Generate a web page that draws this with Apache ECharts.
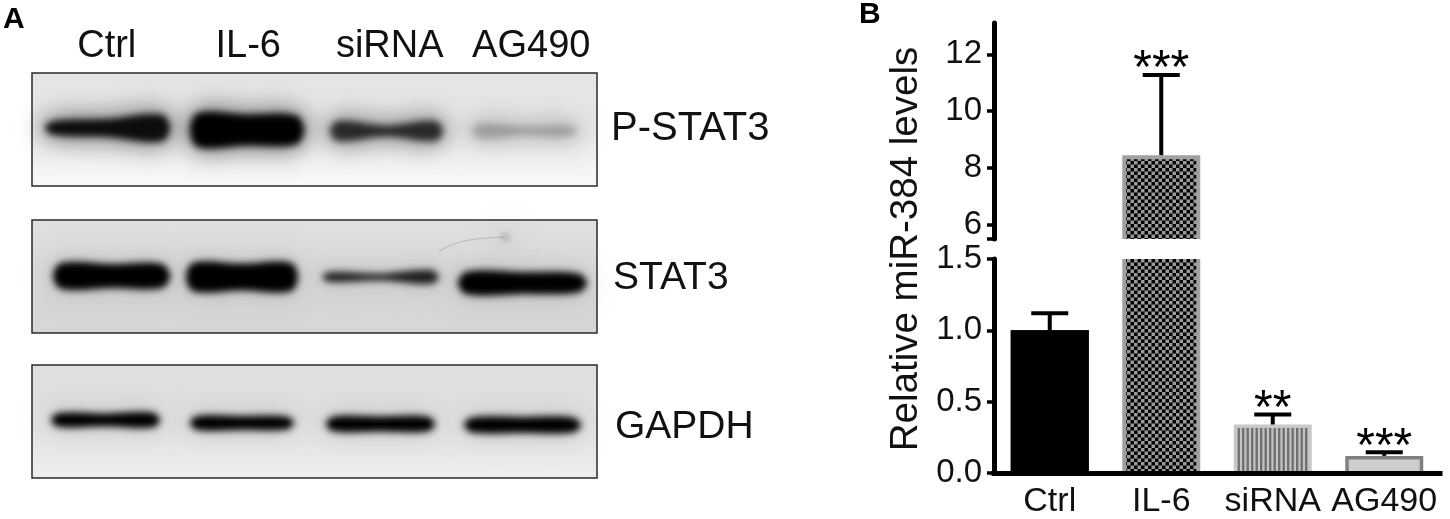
<!DOCTYPE html>
<html>
<head>
<meta charset="utf-8">
<style>
  html, body { margin: 0; padding: 0; background: #fff; }
  #chart { width: 1450px; height: 519px; }
</style>
<script src="https://cdn.jsdelivr.net/npm/echarts@6/dist/echarts.min.js"></script>
</head>
<body>
<div id="chart"></div>
<script>
const FONT = '"Liberation Sans", Arial, sans-serif';

// ── Panel B data ──
const groups = ['Ctrl', 'IL-6', 'siRNA', 'AG490'];
const means = [1.0, 8.45, 0.34, 0.12];
const errorTops = [1.12, 11.27, 0.41, 0.145];
const stars = ['', '***', '**', '***'];
const upperTicks = [5.5, 6, 8, 10, 12];
const upperLabels = [6, 8, 10, 12];

// ── Panel A data: one row per band, read off each membrane in its own 565 x 113 frame ──
// [left, right, middle y, thickness left, thickness mid, thickness right, density]
const pStat3Bands = [
  [13, 138, 55, 14, 18, 27, 0.92],
  [158, 272, 57, 34, 31, 29, 1],
  [298, 411, 58, 20, 11, 20, 0.75],
  [440, 545, 58, 15, 9, 11, 0.2],
];
const stat3Bands = [
  [21, 138, 56, 26, 24, 24, 1],
  [154, 266, 57, 29, 27, 29, 1],
  [290, 407, 57, 10, 7, 14, 0.85],
  [426, 555, 63, 23, 22, 19, 1],
  [470, 477, 17, 5, 6, 5, 0.3],
];
const gapdhBands = [
  [19, 128, 55, 14, 13, 15, 1],
  [158, 262, 58, 14, 14, 13, 1],
  [294, 403, 59, 15, 15, 15, 1],
  [432, 549, 60, 15, 16, 15, 1],
];
const stat3Smear = [[407, 31], [425, 23], [445, 19], [472, 17]];

const blots = [
  { name: 'P-STAT3', top: 73, bands: pStat3Bands, halo: 0.4, labelX: 611, labelY: 129, labelSize: 40,
    bg: ['#e4e4e4', '#e8e8e8', '#f9f9f9'] },
  { name: 'STAT3', top: 220, bands: stat3Bands, halo: 0.1, labelX: 613, labelY: 278, labelSize: 39,
    bg: ['#e0e0e0', '#d9d9d9', '#d6d6d6'] },
  { name: 'GAPDH', top: 365, bands: gapdhBands, halo: 0.1, labelX: 615, labelY: 427, labelSize: 39,
    bg: ['#dedede', '#e2e2e2', '#eeeeee'] },
];

// ── Fill patterns ──
function makeChecker() {
  const c = document.createElement('canvas');
  c.width = c.height = 7;
  const ctx = c.getContext('2d');
  ctx.fillStyle = '#000';
  ctx.fillRect(0, 0, 7, 7);
  ctx.fillStyle = '#9a9a9a';
  ctx.fillRect(0, 0, 3.5, 3.5);
  ctx.fillRect(3.5, 3.5, 3.5, 3.5);
  return { image: c, repeat: 'repeat' };
}

function makeStripes() {
  const c = document.createElement('canvas');
  c.width = 9;
  c.height = 2;
  const ctx = c.getContext('2d');
  ctx.fillStyle = '#c4c4c4';
  ctx.fillRect(0, 0, 9, 2);
  ctx.fillStyle = '#707070';
  ctx.fillRect(0, 0, 2.4, 2);
  ctx.fillRect(4.5, 0, 2.4, 2);
  return { image: c, repeat: 'repeat' };
}

const barStyles = [
  { border: '#000', fill: '#000', inset: 0 },
  { border: '#a0a0a0', fill: makeChecker(), inset: 4 },
  { border: '#c8c8c8', fill: makeStripes(), inset: 3.5 },
  { border: '#808080', fill: '#cecece', inset: 3.5 },
];

// ── Render items ──
function renderBar(params, api) {
  const i = api.value(0);
  const cs = params.coordSys;
  const x = api.coord([i, 0])[0];
  const half = 39;
  const rawTop = api.coord([i, api.value(1)])[1];
  const top = Math.max(rawTop, cs.y);
  const bottom = cs.y + cs.height;
  if (top >= bottom) return null;
  const cutTop = rawTop < cs.y;
  const s = barStyles[i];
  return {
    type: 'group',
    children: [
      { type: 'rect', shape: { x: x - half, y: top, width: half * 2, height: bottom - top },
        style: { fill: s.border } },
      { type: 'rect', shape: {
          x: x - half + s.inset,
          y: cutTop ? top : top + s.inset,
          width: half * 2 - s.inset * 2,
          height: bottom - top - (cutTop ? 0 : s.inset),
        }, style: { fill: s.fill } },
    ],
  };
}

function renderError(params, api) {
  const i = api.value(0);
  const x = api.coord([i, 0])[0];
  const y0 = api.coord([i, api.value(1)])[1];
  const y1 = api.coord([i, api.value(2)])[1];
  const cs = params.coordSys;
  if (y1 < cs.y || y1 > cs.y + cs.height) return null;
  const lineStyle = { stroke: '#000', lineWidth: 4 };
  return {
    type: 'group',
    children: [
      { type: 'line', shape: { x1: x, y1: y0, x2: x, y2: y1 }, style: lineStyle },
      { type: 'line', shape: { x1: x - 18.5, y1: y1, x2: x + 18.5, y2: y1 }, style: lineStyle },
      { type: 'text', style: {
          text: stars[i], x: x, y: y1 - 5,
          textAlign: 'center', textVerticalAlign: 'middle',
          fill: '#000', font: '48px ' + FONT,
        } },
    ],
  };
}

// the shape is painted far off the page and only its blurred shadow lands on the membrane
function softBand(points, blur, color) {
  const OFF = 3000;
  return {
    type: 'polygon',
    silent: true,
    shape: { points: points.map(p => [p[0] - OFF, p[1]]), smooth: 0.35 },
    style: { fill: '#000', shadowBlur: blur, shadowColor: color, shadowOffsetX: OFF },
  };
}

function bandPoints(api, row, grow) {
  const [l, r, y, tl, tm, tr] = row;
  const w = r - l;
  const xs = [l + w * 0.07, l + w * 0.5, r - w * 0.07];
  const ts = [tl, tm, tr];
  const topPts = xs.map((x, k) => api.coord([x, y - ts[k] / 2 - grow]));
  const botPts = xs.map((x, k) => api.coord([x, y + ts[k] / 2 + grow])).reverse();
  const leftPt = api.coord([l - grow, y]);
  const rightPt = api.coord([r + grow, y]);
  return [leftPt, ...topPts, rightPt, ...botPts];
}

function makeRenderBand(halo) {
  return function (params, api) {
    const row = [0, 1, 2, 3, 4, 5, 6].map(k => api.value(k));
    const density = row[6];
    return {
      type: 'group',
      children: [
        softBand(bandPoints(api, row, 7), 22, 'rgba(0,0,0,' + (halo * Math.sqrt(density)).toFixed(3) + ')'),
        softBand(bandPoints(api, row, 0), 7, 'rgba(0,0,0,' + density + ')'),
      ],
    };
  };
}

// ── Grids and axes ──
const grids = [];
const xAxes = [];
const yAxes = [];
const series = [];

blots.forEach((b, i) => {
  grids.push({
    left: 32, top: b.top, width: 565, height: 113, show: true,
    borderColor: '#2a2a2a', borderWidth: 1.5,
    backgroundColor: {
      type: 'linear', x: 0, y: 0, x2: 0, y2: 1,
      colorStops: [
        { offset: 0, color: b.bg[0] },
        { offset: 0.5, color: b.bg[1] },
        { offset: 1, color: b.bg[2] },
      ],
    },
  });
  xAxes.push({ type: 'value', gridIndex: i, min: 0, max: 565, show: false });
  yAxes.push({ type: 'value', gridIndex: i, min: 0, max: 113, inverse: true, show: false });
  series.push({
    type: 'custom', xAxisIndex: i, yAxisIndex: i, silent: true,
    renderItem: makeRenderBand(b.halo),
    encode: { x: 0, y: 2 },
    data: b.bands,
  });
});

series.push({
  type: 'line', xAxisIndex: 1, yAxisIndex: 1, smooth: true, silent: true,
  showSymbol: false,
  lineStyle: { width: 1.2, color: 'rgba(60,60,60,0.2)' },
  data: stat3Smear,
});

// lane labels sit above the first membrane
grids.push({ left: 36, top: 73, width: 566, height: 113 });
xAxes.push({
  type: 'category', gridIndex: 3, position: 'top', data: groups,
  axisLine: { show: false }, axisTick: { show: false },
  axisLabel: { color: '#111', fontSize: 38, fontFamily: FONT, margin: 7, interval: 0 },
});
yAxes.push({ type: 'value', gridIndex: 3, show: false });

const axisLine = { lineStyle: { color: '#000', width: 5 } };
const axisTick = { length: 7, lineStyle: { color: '#000', width: 3.5 } };
const tickLabel = { color: '#111', fontSize: 33, fontFamily: FONT, margin: 12 };

// panel B broken axis: upper part 5.5 to 13.1, lower part 0 to 1.5
grids.push({ left: 994, top: 23, width: 446, height: 216 });
xAxes.push({ type: 'category', gridIndex: 4, data: groups, show: false });
yAxes.push({
  type: 'value', gridIndex: 4, min: 5.5, max: 13.1,
  axisLine: { show: true, ...axisLine },
  axisTick: { show: true, ...axisTick, customValues: upperTicks },
  axisLabel: { ...tickLabel, customValues: upperLabels },
  splitLine: { show: false },
});

grids.push({ left: 994, top: 259, width: 446, height: 214 });
xAxes.push({
  type: 'category', gridIndex: 5, data: groups, z: 5,
  axisLine: { ...axisLine, lineStyle: { ...axisLine.lineStyle, cap: 'square' } },
  axisTick: { alignWithLabel: true, length: 7, lineStyle: { color: '#000', width: 3.5 } },
  axisLabel: { color: '#111', fontSize: 34, fontFamily: FONT, margin: 12, interval: 0 },
});
yAxes.push({
  type: 'value', gridIndex: 5, min: 0, max: 1.5, interval: 0.5,
  axisLine: { show: true, ...axisLine },
  axisTick: { show: true, ...axisTick },
  axisLabel: { ...tickLabel, formatter: v => v.toFixed(1) },
  splitLine: { show: false },
});

const barRows = groups.map((g, i) => [i, means[i]]);
const errorRows = groups.map((g, i) => [i, means[i], errorTops[i]]);

[4, 5].forEach(ax => {
  series.push({
    type: 'custom', xAxisIndex: ax, yAxisIndex: ax, silent: true, z: 2,
    renderItem: renderBar, encode: { x: 0, y: 1 }, data: barRows,
  });
  series.push({
    type: 'custom', xAxisIndex: ax, yAxisIndex: ax, silent: true, z: 3,
    renderItem: renderError, encode: { x: 0, y: [1, 2] }, data: errorRows,
  });
});

// ── Loose text ──
const graphicText = [
  { type: 'text', left: 3, top: 5, style: { text: 'A', fill: '#000', font: 'bold 30px ' + FONT } },
  { type: 'text', left: 859, top: 0, style: { text: 'B', fill: '#000', font: 'bold 30px ' + FONT } },
  { type: 'text', x: 906, y: 249, rotation: Math.PI / 2,
    style: { text: 'Relative miR-384 levels', fill: '#111', font: '38.5px ' + FONT,
             textAlign: 'center', textVerticalAlign: 'middle' } },
].concat(blots.map(b => ({
  type: 'text', x: b.labelX, y: b.labelY,
  style: { text: b.name, fill: '#111', font: b.labelSize + 'px ' + FONT, textAlign: 'left', textVerticalAlign: 'middle' },
})));

const chart = echarts.init(document.getElementById('chart'), null, { renderer: 'canvas' });
chart.setOption({
  animation: false,
  backgroundColor: '#fff',
  grid: grids,
  xAxis: xAxes,
  yAxis: yAxes,
  series: series,
  graphic: graphicText,
});
</script>
</body>
</html>
